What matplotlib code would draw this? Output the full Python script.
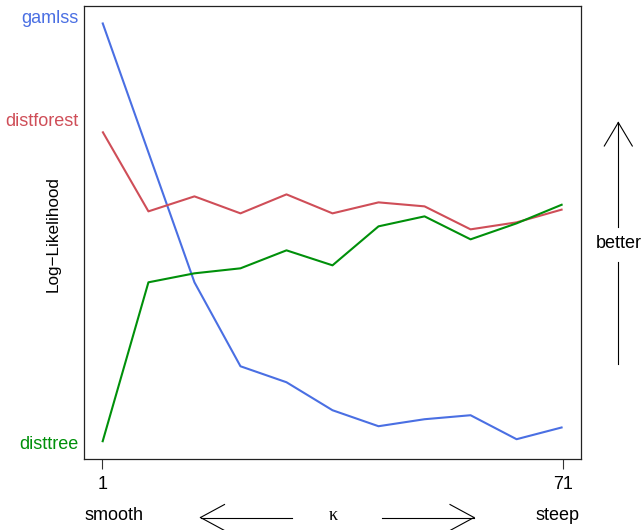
import matplotlib
matplotlib.use("Agg")
import matplotlib.pyplot as plt
from matplotlib.lines import Line2D
import matplotlib.transforms as mtransforms

plt.rcParams['font.family'] = ['Liberation Sans', 'DejaVu Sans']

# kappa grid and mean log-likelihood per method
kappa = [1, 8, 15, 22, 29, 36, 43, 50, 57, 64, 71]
gamlss = [-1.800, -1.930, -2.060, -2.144, -2.160, -2.188, -2.204, -2.197, -2.193, -2.217, -2.205]
distforest = [-1.909, -1.989, -1.974, -1.991, -1.972, -1.991, -1.980, -1.984, -2.007, -2.000, -1.987]
disttree = [-2.220, -2.060, -2.051, -2.046, -2.028, -2.043, -2.004, -1.994, -2.017, -2.001, -1.982]

methods = ["gamlss", "distforest", "disttree"]
label_y = [-1.796, -1.899, -2.222]
colors = ["#4A6FE3", "#CF4E58", "#00900A"]
xticks = [1, 71]

W, H = 644, 530
fig = plt.figure(figsize=(W / 100, H / 100), dpi=100)


def fx(px):
    return px / W


def fy(py):
    return 1 - py / H


ax = fig.add_axes([fx(84), fy(459), fx(581) - fx(84), fy(5.7) - fy(459)])

for vals, c in zip([gamlss, distforest, disttree], colors):
    ax.plot(kappa, vals, color=c, lw=1.5, solid_capstyle="butt")

span_x = kappa[-1] - kappa[0]
ax.set_xlim(kappa[0] - 0.04 * span_x, kappa[-1] + 0.04 * span_x)
allv = gamlss + distforest + disttree
lo, hi = min(allv), max(allv)
ax.set_ylim(lo - 0.04 * (hi - lo), hi + 0.04 * (hi - lo))

ax.set_xticks(xticks)
ax.set_xticklabels([str(t) for t in xticks], fontsize=13)
ax.tick_params(axis="x", direction="out", length=7.5, width=0.8, pad=4.5, color="#333333")
ax.set_yticks([])
for s in ax.spines.values():
    s.set_linewidth(0.9)
    s.set_color("#222222")

# method names beside the first points
trans = mtransforms.blended_transform_factory(fig.transFigure, ax.transData)
for name, y, c in zip(methods, label_y, colors):
    fig.text(fx(79), y, name, color=c, fontsize=13, ha="right", va="center",
             transform=trans)

fig.text(fx(53.3), fy(234), "Log\u2212Likelihood", rotation=90, fontsize=12.3,
         ha="center", va="center")

# bottom annotation: smooth <-- kappa --> steep
ty = 515
fig.text(fx(114), fy(ty), "smooth", fontsize=13, ha="center", va="center")
fig.text(fx(558), fy(ty), "steep", fontsize=13, ha="center", va="center")
fig.text(fx(333), fy(ty + 1), "\u03ba", fontsize=13, ha="center", va="center",
         family=["Liberation Serif", "DejaVu Serif"])


def seg(x0, y0, x1, y1):
    fig.add_artist(Line2D([fx(x0), fx(x1)], [fy(y0), fy(y1)], color="black",
                          lw=0.8, transform=fig.transFigure))


ay = 517.5
seg(200.5, ay, 292, ay)
seg(200.5, ay, 224.5, ay - 13)
seg(200.5, ay, 224.5, ay + 13)
seg(382, ay, 474, ay)
seg(474, ay, 450, ay - 13)
seg(474, ay, 450, ay + 13)

# right annotation: better with upward arrow
bx = 618.3
seg(bx, 122.5, bx, 226.5)
seg(bx, 122.5, bx - 14, 146)
seg(bx, 122.5, bx + 14, 146)
seg(bx, 262, bx, 364)
fig.text(fx(bx), fy(244), "better", fontsize=13, ha="center", va="center")

fig.savefig("out.png", dpi=100)
